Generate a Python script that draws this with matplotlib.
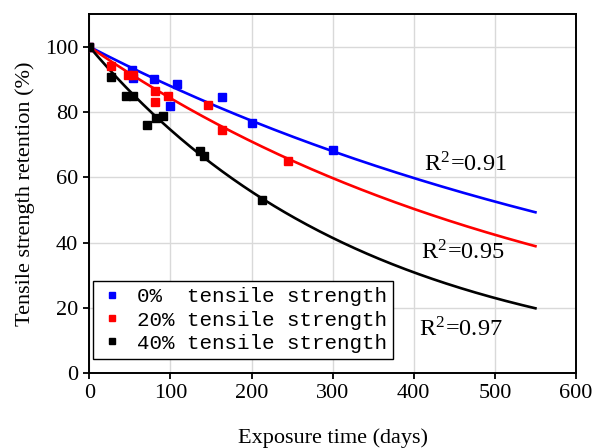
import numpy as np
import matplotlib

matplotlib.use("Agg")
import matplotlib.pyplot as plt

# measured points (days, retention %)
days_0 = [0, 53, 54, 80, 100, 108, 163, 201, 301]
ret_0 = [100, 93.0, 90.3, 90.0, 81.8, 88.7, 84.6, 76.6, 68.3]

days_20 = [0, 27, 48, 54, 81, 81, 97, 146, 163, 245]
ret_20 = [100, 94.0, 91.2, 91.2, 86.3, 83.0, 84.9, 82.0, 74.4, 65.0]

days_40 = [0, 27, 45, 54, 71, 82, 91, 136, 142, 213]
ret_40 = [100, 90.8, 84.8, 84.8, 76.1, 78.3, 78.7, 68.0, 66.5, 53.1]

# exponential decay fits, retention = 100*exp(-k*t)
k_fit = [0.001286, 0.001716, 0.002935]
r2_values = ["0.91", "0.95", "0.97"]
r2_pos = [(413, 64), (409, 37), (407, 13.5)]

labels = ["0%  tensile strength", "20% tensile strength", "40% tensile strength"]
colors = ["#0000ff", "#ff0000", "#000000"]

plt.rcParams["font.family"] = ["Liberation Serif", "DejaVu Serif"]
plt.rcParams["mathtext.fontset"] = "stix"

fig = plt.figure(figsize=(5.94, 4.48), dpi=100)
ax = fig.add_axes([0.1503, 0.1667, 0.8194, 0.8021])

t = np.linspace(0, 550, 300)
series = [(days_0, ret_0), (days_20, ret_20), (days_40, ret_40)]
for (d, r), k, c, lab in zip(series, k_fit, colors, labels):
    ax.plot(t, 100 * np.exp(-k * t), color=c, lw=1.9, zorder=3)
    ax.plot(d, r, "s", color=c, ms=6, lw=0, label=lab, zorder=4)

for val, (x, y) in zip(r2_values, r2_pos):
    ax.text(x, y, "R$^{\\mathregular{2}}$=" + val, fontsize=17.5,
            ha="left", va="center")

ax.set_xlim(0, 600)
ax.set_ylim(0, 110)
ax.set_xticks(range(0, 601, 100))
ax.set_yticks(range(0, 101, 20))
ax.grid(True, color="#d9d9d9", lw=1.0, zorder=0)
ax.set_axisbelow(True)
for s in ax.spines.values():
    s.set_linewidth(1.4)
    s.set_color("black")
ax.tick_params(direction="out", length=4, width=1.3, labelsize=16, pad=4)

ax.set_xlabel("Exposure time (days)", fontsize=16, labelpad=18)
ax.set_ylabel("Tensile strength retention (%)", fontsize=16, labelpad=7)

leg = ax.legend(loc="lower left", bbox_to_anchor=(0.008, 0.04),
                borderaxespad=0,
                prop={"family": "Liberation Mono", "size": 15},
                markerscale=0.65, handlelength=1.2, handletextpad=0.6,
                labelspacing=0.2, borderpad=0.3, fancybox=False, framealpha=1)
leg.get_frame().set_edgecolor("black")
leg.get_frame().set_linewidth(1.0)

fig.savefig("out.png", dpi=100)
